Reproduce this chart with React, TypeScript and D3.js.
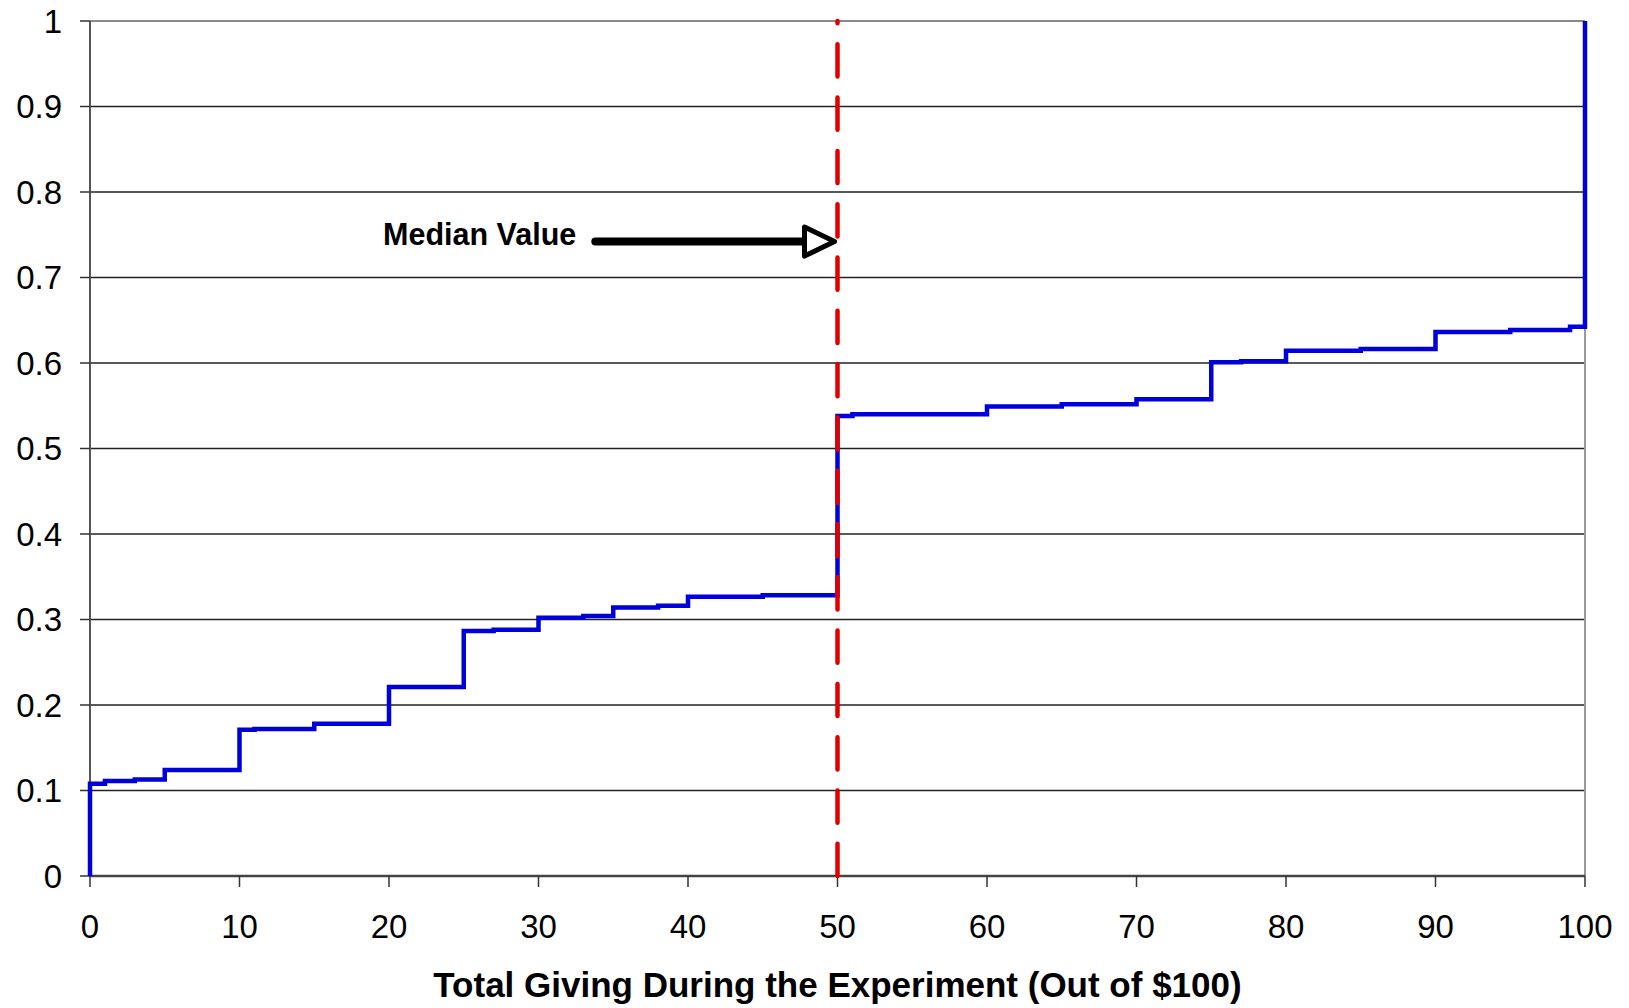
import React from "react";
import * as d3 from "d3";

// cumulative share of subjects at or below each giving level
const givingLevels = [0, 0, 1, 3, 5, 10, 11, 15, 20, 25, 27, 30, 33, 35, 38, 40, 45, 50, 51, 60, 65, 70, 75, 77, 80, 85, 90, 95, 99, 100];
const cumShare = [0, 0.108, 0.111, 0.113, 0.124, 0.171, 0.172, 0.178, 0.221, 0.2865, 0.288, 0.302, 0.304, 0.314, 0.316, 0.3265, 0.3285, 0.538, 0.54, 0.549, 0.5517, 0.5575, 0.601, 0.602, 0.6143, 0.6163, 0.6363, 0.6386, 0.6425, 1];

const xTicks = [0, 10, 20, 30, 40, 50, 60, 70, 80, 90, 100];
const yTicks = [0, 0.1, 0.2, 0.3, 0.4, 0.5, 0.6, 0.7, 0.8, 0.9, 1];

const medianValue = 50;
const annotationLabel = "Median Value";
const annotationTextX = 19.6;
const arrowTailX = 33.8;
const arrowTipX = 49.8;
const arrowY = 0.742;

const xTitle = "Total Giving During the Experiment (Out of $100)";

const W = 1629;
const H = 1008;
const margin = { left: 90, right: 44, top: 21, bottom: 132 };
const font = "Arial, 'Liberation Sans', sans-serif";

export default function App() {
  const x = d3.scaleLinear().domain([0, 100]).range([margin.left, W - margin.right]);
  const y = d3.scaleLinear().domain([0, 1]).range([H - margin.bottom, margin.top]);

  const pts = givingLevels.map((g, i) => [g, cumShare[i]] as [number, number]);
  const line = d3
    .line<[number, number]>()
    .x((d) => x(d[0]))
    .y((d) => y(d[1]))
    .curve(d3.curveStepAfter);

  const x0 = x(0), x1 = x(100), y0 = y(0), y1 = y(1);
  const tipX = x(arrowTipX), ay = y(arrowY);
  const headLen = 30, headHalf = 14.5;

  return (
    <svg width={W} height={H} style={{ position: "absolute", left: 0, top: 0, background: "#fff" }}>
      {/* gridlines */}
      {yTicks.filter((t) => t > 0 && t < 1).map((t) => (
        <line key={t} x1={x0} x2={x1} y1={y(t)} y2={y(t)} stroke="#222" strokeWidth={1.4} />
      ))}
      {/* plot border top/right */}
      <line x1={x0} x2={x1} y1={y1} y2={y1} stroke="#8a8a8a" strokeWidth={2} />
      <line x1={x1} x2={x1} y1={y1} y2={y0} stroke="#999" strokeWidth={2} />
      {/* axes */}
      <line x1={x0} x2={x0} y1={y1} y2={y0} stroke="#555" strokeWidth={2} />
      <line x1={x0} x2={x1} y1={y0} y2={y0} stroke="#444" strokeWidth={2.5} />
      {yTicks.map((t) => (
        <g key={t}>
          <line x1={x0 - 10} x2={x0} y1={y(t)} y2={y(t)} stroke="#333" strokeWidth={1.5} />
          <text x={62} y={y(t)} dy="0.36em" textAnchor="end" fontFamily={font} fontSize={33} fill="#000">
            {d3.format("")(t)}
          </text>
        </g>
      ))}
      {xTicks.map((t) => (
        <g key={t}>
          <line x1={x(t)} x2={x(t)} y1={y0} y2={y0 + 11} stroke="#333" strokeWidth={1.5} />
          <text x={x(t)} y={938} textAnchor="middle" fontFamily={font} fontSize={33} fill="#000">
            {t}
          </text>
        </g>
      ))}
      <text x={(x0 + x1) / 2} y={997} textAnchor="middle" fontFamily={font} fontSize={35} fontWeight="bold" fill="#000">
        {xTitle}
      </text>

      {/* CDF */}
      <path d={line(pts) || ""} fill="none" stroke="#0000d8" strokeWidth={4.5} strokeLinejoin="miter" />

      {/* median line */}
      <line
        x1={x(medianValue)}
        x2={x(medianValue)}
        y1={y0}
        y2={y1}
        stroke="#e00000"
        strokeWidth={4.5}
        strokeDasharray="32.2 21.1"
        strokeLinecap="round"
      />

      {/* annotation */}
      <text x={x(annotationTextX)} y={ay + 3} fontFamily={font} fontSize={30.5} fontWeight="bold" fill="#000">
        {annotationLabel}
      </text>
      <line x1={x(arrowTailX)} x2={tipX - headLen} y1={ay} y2={ay} stroke="#000" strokeWidth={8} strokeLinecap="round" />
      <polygon
        points={`${tipX - headLen},${ay - headHalf} ${tipX},${ay} ${tipX - headLen},${ay + headHalf}`}
        fill="#fff"
        stroke="#000"
        strokeWidth={5}
        strokeLinejoin="round"
      />
    </svg>
  );
}
